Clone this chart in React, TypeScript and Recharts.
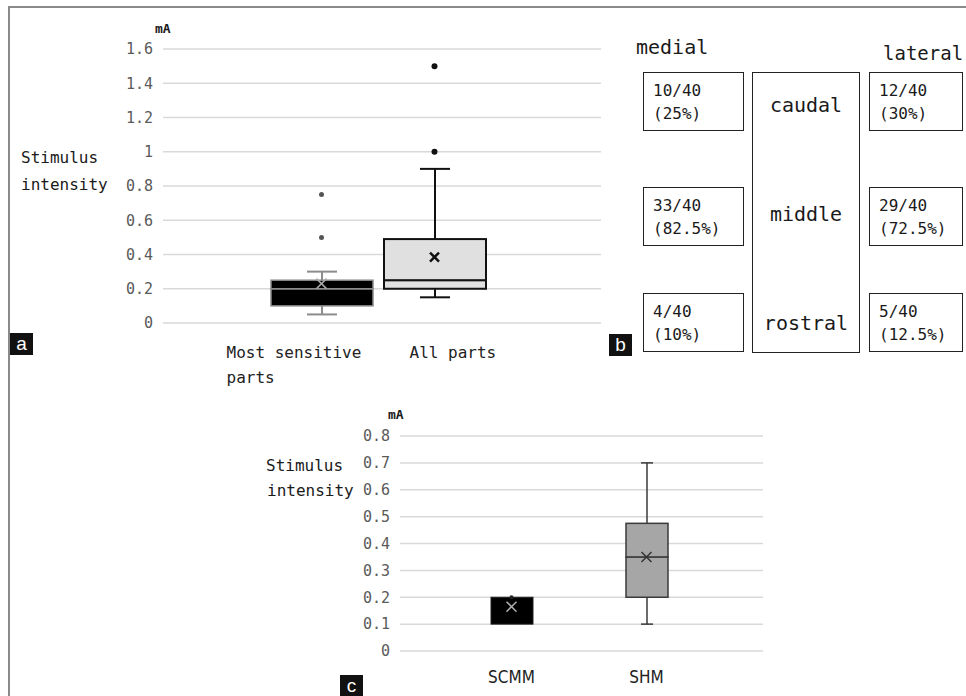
import React from 'react';
import { ComposedChart, Bar, Scatter, XAxis, YAxis, CartesianGrid } from 'recharts';

// ---------- Panel a data ----------
const aCategories = ['Most sensitive parts', 'All parts'];
const aTickLines = [['Most sensitive', 'parts'], ['All parts']];
const aMin = [0.05, 0.15];
const aQ1 = [0.1, 0.2];
const aMedian = [0.2, 0.25];
const aQ3 = [0.25, 0.49];
const aMax = [0.3, 0.9];
const aMean = [0.23, 0.385];
const aOutliers = [[0.75, 0.5], [1.5, 1.0]];
const aTicks = [0, 0.2, 0.4, 0.6, 0.8, 1, 1.2, 1.4, 1.6];

// ---------- Panel c data ----------
const cCategories = ['SCMM', 'SHM'];
const cMin = [0.1, 0.1];
const cQ1 = [0.1, 0.2];
const cMedian = [0.2, 0.35];
const cQ3 = [0.2, 0.475];
const cMax = [0.2, 0.7];
const cMean = [0.165, 0.35];
const cOutliers = [[0.2], []];
const cTicks = [0, 0.1, 0.2, 0.3, 0.4, 0.5, 0.6, 0.7, 0.8];

// ---------- Panel b data ----------
const bSides = ['medial', 'lateral'];
const bRegions = ['caudal', 'middle', 'rostral'];
const bMedialCounts = ['10/40', '33/40', '4/40'];
const bMedialPercents = ['(25%)', '(82.5%)', '(10%)'];
const bLateralCounts = ['12/40', '29/40', '5/40'];
const bLateralPercents = ['(30%)', '(72.5%)', '(12.5%)'];

// ---------- styles ----------
const MONO = '"DejaVu Sans Mono", "Liberation Mono", monospace';
const NARROW = '"Liberation Sans Narrow", "DejaVu Sans Condensed", "Liberation Sans", sans-serif';

const aStyles = [
  { fill: '#000000', stroke: '#8c8c8c', strokeWidth: 1.5, whisker: '#8c8c8c', whiskerWidth: 2, capHalf: 15, mean: '#a8a8a8', meanWidth: 1.5, meanSize: 5, outlier: '#555555', outlierR: 2.5 },
  { fill: '#e0e0e0', stroke: '#111111', strokeWidth: 2, whisker: '#111111', whiskerWidth: 2, capHalf: 15, mean: '#111111', meanWidth: 2.5, meanSize: 4.5, outlier: '#111111', outlierR: 3 },
];
const cStyles = [
  { fill: '#000000', stroke: '#222222', strokeWidth: 1, whisker: '#333333', whiskerWidth: 1.5, capHalf: 6, mean: '#b0b0b0', meanWidth: 1.5, meanSize: 5, outlier: '#222222', outlierR: 2 },
  { fill: '#a6a6a6', stroke: '#3a3a3a', strokeWidth: 1.5, whisker: '#3a3a3a', whiskerWidth: 1.5, capHalf: 6, mean: '#333333', meanWidth: 1.5, meanSize: 5, outlier: '#222222', outlierR: 2 },
];

function buildRows(cats, mins, q1s, meds, q3s, maxs, means) {
  return cats.map((name, i) => ({
    name,
    base: mins[i],
    whiskerLow: q1s[i] - mins[i],
    boxLow: meds[i] - q1s[i],
    boxHigh: q3s[i] - meds[i],
    whiskerHigh: maxs[i] - q3s[i],
    mean: means[i],
  }));
}
function buildOutliers(cats, outs) {
  const rows = [];
  cats.forEach((name, i) => outs[i].forEach((value) => rows.push({ name, value })));
  return rows;
}

const aRows = buildRows(aCategories, aMin, aQ1, aMedian, aQ3, aMax, aMean);
const aOutlierRows = buildOutliers(aCategories, aOutliers);
const cRows = buildRows(cCategories, cMin, cQ1, cMedian, cQ3, cMax, cMean);
const cOutlierRows = buildOutliers(cCategories, cOutliers);

const norm = (y, h) => (h < 0 ? { top: y + h, h: -h } : { top: y, h });

const makeWhisker = (cats, styles, end) => (props) => {
  const { x, y, width, height, payload } = props;
  const s = styles[cats.indexOf(payload?.name)];
  if (!s || !(Math.abs(height) > 0)) return <g />;
  const { top, h } = norm(y, height);
  const cx = x + width / 2;
  const capY = end === 'low' ? top + h : top;
  return (
    <g stroke={s.whisker} strokeWidth={s.whiskerWidth}>
      <line x1={cx} x2={cx} y1={top} y2={top + h} />
      <line x1={cx - s.capHalf} x2={cx + s.capHalf} y1={capY} y2={capY} />
    </g>
  );
};

const makeBox = (cats, styles) => (props) => {
  const { x, y, width, height, payload } = props;
  const s = styles[cats.indexOf(payload?.name)];
  if (!s || !(Math.abs(height) > 0)) return <g />;
  const { top, h } = norm(y, height);
  return <rect x={x} y={top} width={width} height={h} fill={s.fill} stroke={s.stroke} strokeWidth={s.strokeWidth} />;
};

const makeCross = (cats, styles) => (props) => {
  const { cx, cy, payload } = props;
  const s = styles[cats.indexOf(payload?.name)];
  if (!s || cx == null || cy == null) return <g />;
  const r = s.meanSize;
  return (
    <g stroke={s.mean} strokeWidth={s.meanWidth}>
      <line x1={cx - r} y1={cy - r} x2={cx + r} y2={cy + r} />
      <line x1={cx - r} y1={cy + r} x2={cx + r} y2={cy - r} />
    </g>
  );
};

const makeDot = (cats, styles) => (props) => {
  const { cx, cy, payload } = props;
  const s = styles[cats.indexOf(payload?.name)];
  if (!s || cx == null || cy == null) return <g />;
  return <circle cx={cx} cy={cy} r={s.outlierR} fill={s.outlier} />;
};

const aTickAnchor = [
  { dx: -95, anchor: 'start' },
  { dx: -25, anchor: 'start' },
];
const ATick = (props) => {
  const { x, y, index } = props;
  const lines = aTickLines[index] || [];
  const a = aTickAnchor[index] || { dx: 0, anchor: 'middle' };
  return (
    <text x={x + a.dx} y={y + 27} textAnchor={a.anchor} fill="#222" fontSize={16} fontFamily={MONO}>
      {lines.map((l, i) => (
        <tspan key={i} x={x + a.dx} dy={i === 0 ? 0 : 25}>{l}</tspan>
      ))}
    </text>
  );
};
const CTick = (props) => {
  const { x, y, payload } = props;
  return (
    <text x={x} y={y + 24} textAnchor="middle" fill="#222" fontSize={17} fontFamily={NARROW}>
      {payload.value}
    </text>
  );
};

function BoxChart({ width, height, margin, rows, outlierRows, cats, styles, ticks, domain, padding, barSize, tick, xHeight }) {
  return (
    <ComposedChart width={width} height={height} data={rows} margin={margin}>
      <CartesianGrid vertical={false} stroke="#d9d9d9" strokeWidth={1.5} />
      <XAxis
        dataKey="name"
        type="category"
        allowDuplicatedCategory={false}
        axisLine={false}
        tickLine={false}
        padding={padding}
        height={xHeight}
        interval={0}
        tick={tick}
      />
      <YAxis
        type="number"
        domain={domain}
        ticks={ticks}
        interval={0}
        axisLine={false}
        tickLine={false}
        width={60}
        tickMargin={4}
        tick={{ fill: '#5a5a5a', fontSize: 15, fontFamily: MONO }}
      />
      <Bar dataKey="base" stackId="bp" barSize={barSize} shape={() => <g />} isAnimationActive={false} />
      <Bar dataKey="whiskerLow" stackId="bp" barSize={barSize} shape={makeWhisker(cats, styles, 'low')} isAnimationActive={false} />
      <Bar dataKey="boxLow" stackId="bp" barSize={barSize} shape={makeBox(cats, styles)} isAnimationActive={false} />
      <Bar dataKey="boxHigh" stackId="bp" barSize={barSize} shape={makeBox(cats, styles)} isAnimationActive={false} />
      <Bar dataKey="whiskerHigh" stackId="bp" barSize={barSize} shape={makeWhisker(cats, styles, 'high')} isAnimationActive={false} />
      <Scatter data={outlierRows} dataKey="value" shape={makeDot(cats, styles)} isAnimationActive={false} />
      <Scatter dataKey="mean" shape={makeCross(cats, styles)} isAnimationActive={false} />
    </ComposedChart>
  );
}

const abs = (left, top, extra = {}) => ({ position: 'absolute', left, top, ...extra });

function TextLine({ left, centerY, size, children, weight = 'normal', color = '#1a1a1a', font = MONO }) {
  const lh = Math.round(size * 1.3);
  return (
    <div style={abs(left, centerY - lh / 2, { fontSize: size, lineHeight: `${lh}px`, fontFamily: font, fontWeight: weight, color, whiteSpace: 'pre' })}>
      {children}
    </div>
  );
}

function PanelLabel({ left, top, text }) {
  return (
    <div style={abs(left, top, { width: 23, height: 22, background: '#111', color: '#fff', fontFamily: '"Liberation Sans", Arial, sans-serif', fontSize: 19, lineHeight: '21px', textAlign: 'center' })}>
      {text}
    </div>
  );
}

const rowTops = [72, 187, 293];

function CountBox({ left, top, width, count, pct }) {
  return (
    <div style={abs(left, top, { width, height: 59, boxSizing: 'border-box', border: '1.5px solid #222', paddingLeft: 9, paddingTop: 6, fontFamily: MONO, fontSize: 16, lineHeight: '23px', color: '#1a1a1a', background: '#fff' })}>
      <div>{count}</div>
      <div>{pct}</div>
    </div>
  );
}

export default function App() {
  return (
    <div style={{ position: 'absolute', left: 0, top: 0, width: 966, height: 696, overflow: 'hidden', background: '#fff' }}>
      {/* outer frame */}
      <div style={abs(8, 6, { width: 980, height: 720, borderLeft: '2px solid #8a8a8a', borderTop: '2px solid #8a8a8a' })} />

      {/* Panel a */}
      <div style={abs(0, 0)}>
        <BoxChart
          width={620}
          height={400}
          margin={{ top: 49, right: 19, bottom: 17, left: 103 }}
          rows={aRows}
          outlierRows={aOutlierRows}
          cats={aCategories}
          styles={aStyles}
          ticks={aTicks}
          domain={[0, 1.6]}
          padding={{ left: 102, right: 110 }}
          barSize={102}
          tick={<ATick />}
          xHeight={60}
        />
      </div>
      <TextLine left={155} centerY={28} size={13} weight="bold">mA</TextLine>
      <TextLine left={21} centerY={157} size={16}>Stimulus</TextLine>
      <TextLine left={21} centerY={184} size={16}>intensity</TextLine>
      <PanelLabel left={10} top={333} text="a" />

      {/* Panel b */}
      <TextLine left={636} centerY={47} size={20}>{bSides[0]}</TextLine>
      <TextLine left={883} centerY={53} size={19}>{bSides[1]}</TextLine>
      <div style={abs(752, 72, { width: 108, height: 281, boxSizing: 'border-box', border: '1.5px solid #222' })} />
      {bRegions.map((r, i) => (
        <div key={r} style={abs(752, [105, 214, 323][i] - 13, { width: 108, textAlign: 'center', fontFamily: MONO, fontSize: 20, lineHeight: '26px', color: '#1a1a1a' })}>
          {r}
        </div>
      ))}
      {bMedialCounts.map((c, i) => (
        <CountBox key={'m' + i} left={643} top={rowTops[i]} width={101} count={c} pct={bMedialPercents[i]} />
      ))}
      {bLateralCounts.map((c, i) => (
        <CountBox key={'l' + i} left={869} top={rowTops[i]} width={94} count={c} pct={bLateralPercents[i]} />
      ))}
      <PanelLabel left={609} top={334} text="b" />

      {/* Panel c */}
      <div style={abs(240, 380)}>
        <BoxChart
          width={560}
          height={316}
          margin={{ top: 56, right: 37, bottom: 5, left: 100 }}
          rows={cRows}
          outlierRows={cOutlierRows}
          cats={cCategories}
          styles={cStyles}
          ticks={cTicks}
          domain={[0, 0.8]}
          padding={{ left: 44, right: 49 }}
          barSize={42}
          tick={<CTick />}
          xHeight={40}
        />
      </div>
      <TextLine left={388} centerY={414} size={13} weight="bold">mA</TextLine>
      <TextLine left={266} centerY={465} size={16}>Stimulus</TextLine>
      <TextLine left={267} centerY={490} size={16}>intensity</TextLine>
      <PanelLabel left={340} top={675} text="c" />
    </div>
  );
}
